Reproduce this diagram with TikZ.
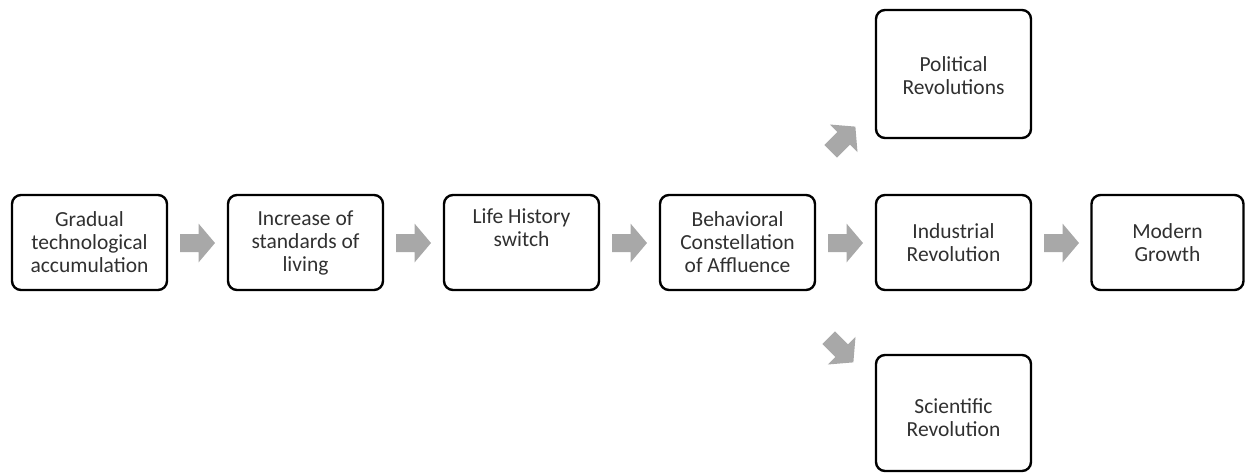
\documentclass[tikz,border=0pt]{standalone}
\usepackage{fontspec}
\setmainfont{Carlito}
\definecolor{arrowgray}{HTML}{A8A8A8}
\definecolor{txt}{HTML}{303030}
\begin{document}
\begin{tikzpicture}[x=1pt,y=-1pt,
  box/.style={draw=black,line width=2.4pt,rounded corners=9pt,align=center,
    font=\fontsize{21.5}{23}\selectfont,text=txt,inner sep=0pt},
  blk/.pic={\fill[arrowgray] (-17.5,-9) -- (1,-9) -- (1,-19.5) -- (17.5,0) -- (1,19.5) -- (1,9) -- (-17.5,9) -- cycle;}
]
\useasboundingbox (0,0) rectangle (1245,474);
\node[box,minimum width=155pt,minimum height=95pt] (b1) at (89.5,242.5) {Gradual\\technological\\accumulation};
\node[box,minimum width=155pt,minimum height=95pt] (b2) at (305.5,242.5) {Increase of\\standards of\\living};
\node[box,minimum width=155pt,minimum height=95pt] (b3) at (521.5,242.5) {Life History\\switch\\\strut};
\node[box,minimum width=155pt,minimum height=95pt] (b4) at (737.5,242.5) {Behavioral\\Constellation\\of Affluence};
\node[box,minimum width=155pt,minimum height=95pt] (b5) at (953.5,242.5) {Industrial\\Revolution};
\node[box,minimum width=152pt,minimum height=95pt] (b6) at (1167.5,242.5) {Modern\\Growth};
\node[box,minimum width=155pt,minimum height=128pt] (bt) at (953.5,74) {};
\node[box,anchor=center,draw=none] (tt) at (953.5,76) {Political\\Revolutions};
\node[box,minimum width=155pt,minimum height=116pt] (bb) at (953.5,413) {};
\node[box,anchor=center,draw=none] (tb) at (953.5,418) {Scientific\\Revolution};
\pic at (197.5,243) {blk};
\pic at (413.5,243) {blk};
\pic at (629.5,243) {blk};
\pic at (845.5,243) {blk};
\pic at (1061.5,243) {blk};
\pic[rotate=45] at (843,139) {blk};
\pic[rotate=-45] at (841,350) {blk};
\end{tikzpicture}
\end{document}
